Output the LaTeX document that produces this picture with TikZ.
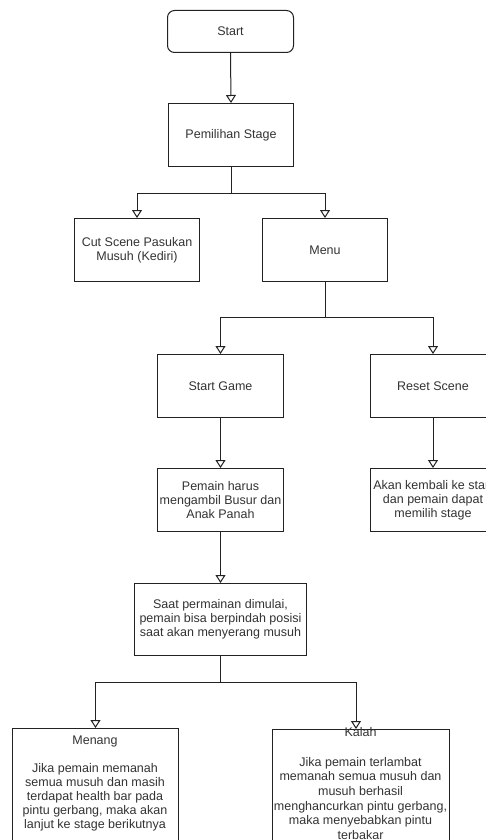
\documentclass[tikz,border=0pt]{standalone}
\usepackage{fontspec}
\setmainfont{Liberation Sans}
\usetikzlibrary{arrows.meta}
\definecolor{txtc}{HTML}{333333}
\definecolor{linec}{HTML}{222222}
\tikzset{
  box/.style={draw=linec, line width=1pt, fill=white, inner sep=0pt, anchor=north west},
  lbl/.style={text=txtc, align=center, inner sep=0pt, font=\fontsize{12.5}{14}\selectfont},
  conn/.style={draw=linec, line width=1pt},
  arr/.style={conn, -{Triangle[open, length=8pt, width=10pt, fill=white]}},
}
\begin{document}
\begin{tikzpicture}[x=1pt, y=-1pt]
\useasboundingbox (0,0) rectangle (486,840);
\clip (0,0) rectangle (486,840);
\fill[white] (0,0) rectangle (486,840);

% boxes
\node[box, rounded corners=7pt, minimum width=126pt, minimum height=42pt] (start) at (167,10) {};
\node[lbl] (starttxt) at (start.center) {Start};
\node[box, minimum width=125pt, minimum height=63pt] (pem) at (168,103) {};
\node[lbl] (pemtxt) at (pem.center) {Pemilihan Stage};
\node[box, minimum width=125pt, minimum height=63pt] (cut) at (74,218) {};
\node[lbl] (cuttxt) at (cut.center) {Cut Scene Pasukan\\Musuh (Kediri)};
\node[box, minimum width=125pt, minimum height=63pt] (menu) at (262,218) {};
\node[lbl] (menutxt) at (menu.center) {Menu};
\node[box, minimum width=126pt, minimum height=63pt] (sg) at (157,354) {};
\node[lbl] (sgtxt) at (sg.center) {Start Game};
\node[box, minimum width=125pt, minimum height=63pt] (rs) at (370,354) {};
\node[lbl] (rstxt) at (rs.center) {Reset Scene};
\node[box, minimum width=126pt, minimum height=63pt] (ph) at (157,468) {};
\node[lbl] (phtxt) at (ph.center) {Pemain harus\\mengambil Busur dan\\Anak Panah};
\node[box, minimum width=125pt, minimum height=63pt] (ak) at (370,468) {};
\node[lbl] (aktxt) at (ak.center) {Akan kembali ke start\\dan pemain dapat\\memilih stage};
\node[box, minimum width=172pt, minimum height=72pt] (saat) at (134,583) {};
\node[lbl] (saattxt) at (saat.center) {Saat permainan dimulai,\\pemain bisa berpindah posisi\\saat akan menyerang musuh};
\node[box, minimum width=166pt, minimum height=140pt] (menang) at (12,728) {};
\node[lbl, anchor=north] (menangtxt) at (95,735.5) {Menang\\[14pt]Jika pemain memanah\\semua musuh dan masih\\terdapat health bar pada\\pintu gerbang, maka akan\\lanjut ke stage berikutnya};
\node[box, minimum width=177pt, minimum height=140pt] (kalah) at (272,729) {};
\node[lbl, anchor=north, font=\fontsize{12.5}{14.7}\selectfont] (kalahtxt) at (360.5,727.5) {Kalah\\[14.7pt]Jika pemain terlambat\\memanah semua musuh dan\\musuh berhasil\\menghancurkan pintu gerbang,\\maka menyebabkan pintu\\terbakar};

% junctions
\coordinate (j1) at (pem.south |- 0,193);
\coordinate (j2) at (menu.south |- 0,317);
\coordinate (j3) at (saat.south |- 0,682);
\coordinate (kin) at (356,729);

% connectors
\draw[arr] (start.south) -- (pem.north);
\draw[conn] (pem.south) -- (j1);
\draw[arr] (j1) -| (cut.north);
\draw[arr] (j1) -| (menu.north);
\draw[conn] (menu.south) -- (j2);
\draw[arr] (j2) -| (sg.north);
\draw[arr] (j2) -| (rs.north);
\draw[arr] (sg.south) -- (ph.north);
\draw[arr] (rs.south) -- (ak.north);
\draw[arr] (ph.south) -- (saat.north);
\draw[conn] (saat.south) -- (j3);
\draw[arr] (j3) -| (menang.north);
\draw[arr] (j3) -| (kin);
\end{tikzpicture}
\end{document}
